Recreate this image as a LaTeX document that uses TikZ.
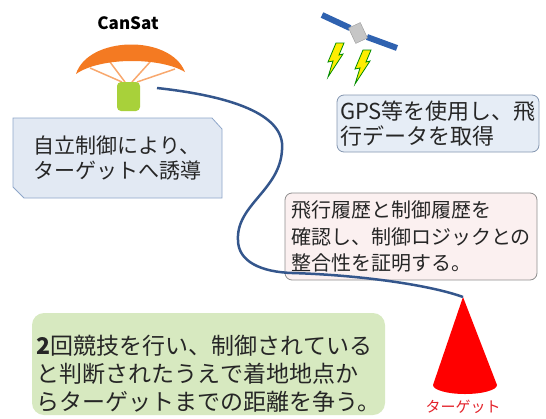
\documentclass[tikz,border=0pt]{standalone}
\usepackage{fontspec}
\setmainfont{Noto Sans CJK JP}

\definecolor{chute}{HTML}{F47A22}
\definecolor{cords}{HTML}{F8A86E}
\definecolor{canbody}{HTML}{A8D13A}
\definecolor{route}{HTML}{34568C}
\definecolor{panel}{HTML}{2F62B0}
\definecolor{gpsfill}{HTML}{E6EDF6}
\definecolor{gpsline}{HTML}{8496B0}
\definecolor{ctrlfill}{HTML}{E2E9F3}
\definecolor{ctrlline}{HTML}{8EA6C9}
\definecolor{logfill}{HTML}{FBF0F0}
\definecolor{logline}{HTML}{8E8E8E}
\definecolor{rulefill}{HTML}{D7E9C0}
\definecolor{cone}{HTML}{FF0000}
\definecolor{tgttext}{HTML}{E3222A}

\def\bolt#1{\filldraw[bolt,shift={#1}] (336,43) -- (344,43) -- (339,55) -- (343,54) -- (328,77) -- (333,61) -- (328,62) -- cycle;}

\begin{document}
\begin{tikzpicture}[x=1pt,y=-1pt,inner sep=3pt,
    note/.style={rounded corners=7pt,align=left,text=black!85,line width=0.8pt},
    bolt/.style={fill=yellow!95!orange,draw=green!55!black,line width=0.8pt}]
    \useasboundingbox (0,0) rectangle (546,418);

    % CanSat with its parachute
    \node[font=\bfseries\fontsize{17}{17}\selectfont] (title) at (128,23) {CanSat};
    \draw[cords,line width=1.5pt] (90,68) -- (122,82) (110,62) -- (125,82) (150,62) -- (132,82) (175,69) -- (137,82);
    \fill[chute] (76,74) .. controls (88,36) and (170,34) .. (185,72) .. controls (160,57) and (100,57) .. (76,74);
    \node[fill=canbody,rounded corners=4pt,minimum width=23pt,minimum height=29pt,inner sep=0pt] (CAN) at (128.5,96.5) {};

    % satellite and its signals
    \draw[panel,line width=6pt] (322,15) -- (350,28);
    \draw[panel,line width=6pt] (367,37) -- (397,48);
    \node[draw=gray!80,fill=gray!45,minimum width=13pt,minimum height=17pt,inner sep=0pt,rotate=25] (SAT) at (358,33) {};
    \bolt{(0,0)}
    \bolt{(27,7)}

    % notes
    \node[note,draw=gpsline,fill=gpsfill,minimum width=202pt,minimum height=57pt,font=\fontsize{22}{25}\selectfont] (GPS) at (438,123.5) {GPS等を使用し、飛\\行データを取得};
    \filldraw[draw=ctrlline,fill=ctrlfill,line width=0.8pt] (13,118) -- (212,118) -- (222,129) -- (222,198) -- (24,198) -- (13,187) -- cycle;
    \node[align=left,text=black!85,font=\fontsize{21}{25}\selectfont] (CTRL) at (117.5,158) {自立制御により、\\ターゲットへ誘導};
    \node[note,draw=logline,fill=logfill,minimum width=252pt,minimum height=87pt,font=\fontsize{20}{26.5}\selectfont] (LOG) at (411,236.5) {飛行履歴と制御履歴を\\確認し、制御ロジックとの\\整合性を証明する。};
    \node[note,fill=rulefill,rounded corners=12pt,minimum width=353pt,minimum height=102pt] (RULE) at (208.5,364) {};
    \node[align=left,text=black!85,font=\fontsize{23}{28}\selectfont] (RULEtxt) at ([yshift=-10pt]RULE.center) {\textbf{2}回競技を行い、制御されている\\と判断されたうえで着地地点か\\らターゲットまでの距離を争う。};

    % target cone
    \coordinate (tip) at (463,297);
    \fill[cone] (tip) -- (433,385) arc[start angle=180,end angle=0,x radius=32,y radius=9] -- cycle;
    \node[text=tgttext,font=\fontsize{15}{15}\selectfont] (TGT) at (463,407) {ターゲット};

    % flight path from the CanSat down to the target
    \coordinate (launch) at (157,88);
    \draw[route,line width=2.5pt] (launch) .. controls (230,96) and (286,114) .. (282,150)
        .. controls (280,190) and (236,205) .. (238,240)
        .. controls (238,262) and (262,272) .. (292,273)
        .. controls (360,275) and (430,285) .. (tip);
\end{tikzpicture}
\end{document}
